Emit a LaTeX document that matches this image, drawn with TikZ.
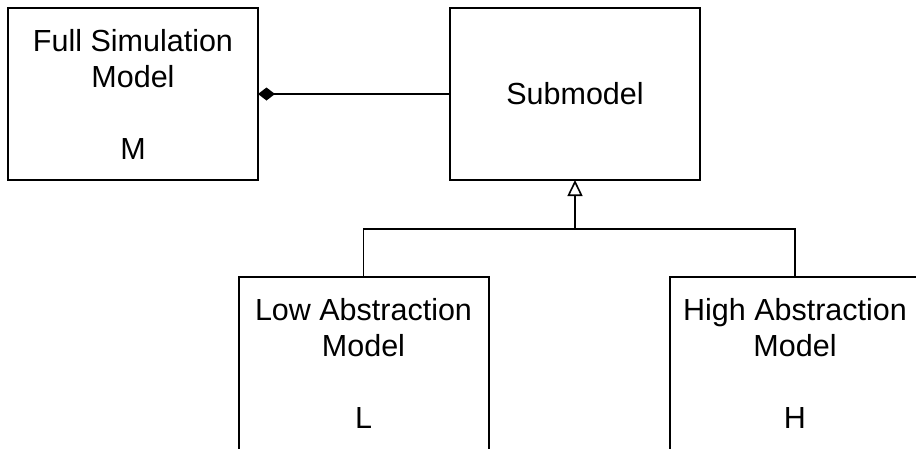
\documentclass[tikz,border=0pt]{standalone}
\usepackage{fontspec}
\setmainfont{Liberation Sans}
\usetikzlibrary{arrows.meta}
\begin{document}
\begin{tikzpicture}[x=1pt,y=-1pt,
  classtext/.style={rectangle, minimum width=250pt, minimum height=172pt,
    inner sep=0pt, outer sep=0pt, align=center,
    font=\fontsize{30.5}{36}\selectfont},
  classbox/.style={classtext, draw, line width=2pt},
  frame/.style={line width=2pt},
  link/.style={line width=1.6pt},
  composition/.style={link, {Diamond[length=17pt,width=13pt]}-},
  inherits/.style={link, -{Triangle[open,length=16pt,width=15pt,line width=1.6pt]}}
]
\useasboundingbox (0,0) rectangle (916,448);
\fill[white] (0,0) rectangle (916,448);

\node[classbox] (full) at (133,94) {Full Simulation\\Model\\[36pt]M};
\node[classbox] (sub) at (575,94) {Submodel};
\node[classtext] (low) at (363.5,363) {Low Abstraction\\Model\\[36pt]L};
\node[classtext] (high) at (795,363) {High Abstraction\\Model\\[36pt]H};

% the lower classes run past the edge of the sheet
\draw[frame] ([yshift=-20pt]low.south west) -- (low.north west) -- (low.north east)
  -- ([yshift=-20pt]low.south east);
\draw[frame] ([yshift=-20pt]high.south west) -- (high.north west)
  -- ([xshift=20pt]high.north east);

\coordinate (join) at (575,229);

\draw[composition] (full.east) -- (sub.west);
\draw[link] (low.north) |- (join) -| (high.north);
\draw[inherits] (join) -- (sub.south);
\end{tikzpicture}
\end{document}
